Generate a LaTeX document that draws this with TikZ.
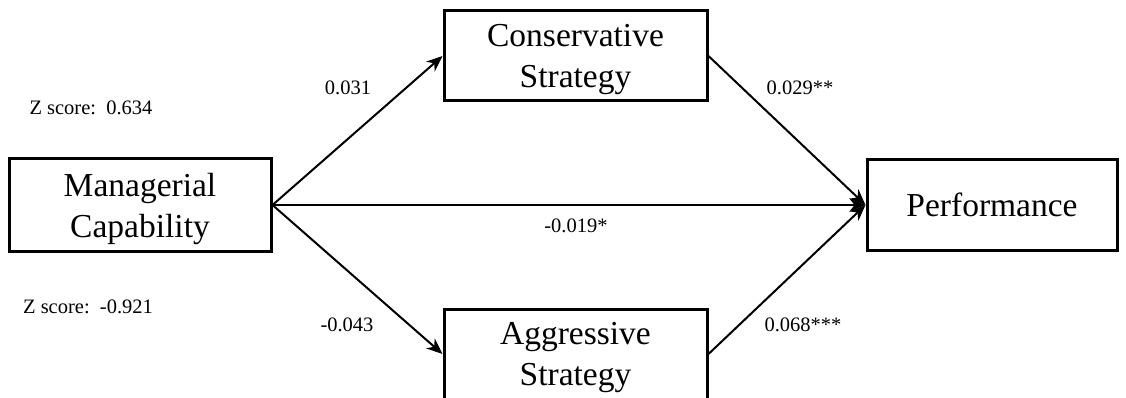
\documentclass[tikz,border=0pt]{standalone}
\usepackage{fontspec}
\setmainfont{Liberation Serif}
\usetikzlibrary{arrows.meta}
\begin{document}
\begin{tikzpicture}[x=1pt,y=-1pt,
  box/.style={draw, line width=3pt, inner sep=0pt, align=center, text depth=0pt,
    font=\fontsize{33.5}{41}\selectfont},
  lab/.style={anchor=base, inner sep=0pt, font=\fontsize{20.5}{24}\selectfont},
  conn/.style={line width=2pt, -{Stealth[length=16pt,width=13pt,inset=5pt]}}]
\useasboundingbox (0,0) rectangle (1126,398);
\clip (0,0) rectangle (1126,398);
\node[box, minimum width=262pt, minimum height=92pt] (mc) at (140,205) {Managerial\\Capability};
\node[box, minimum width=263pt, minimum height=90pt] (cs) at (575.5,56) {Conservative\\Strategy};
\node[box, minimum width=263pt, minimum height=90pt] (as) at (575.5,354) {Aggressive\\Strategy};
\node[box, minimum width=250pt, minimum height=91pt] (pf) at (992,205) {Performance};
\draw[conn] (mc.east) -- (cs.west);
\draw[conn] (mc.east) -- (as.west);
\draw[conn] (mc.east) -- (pf.west);
\draw[conn] (cs.east) -- (pf.west);
\draw[conn] (as.east) -- (pf.west);
\node[lab] (l1) at (348,95) {0.031};
\node[lab] (l2) at (800,95) {0.029**};
\node[lab] (l3) at (347,331) {-0.043};
\node[lab] (l4) at (803,331) {0.068***};
\node[lab] (l5) at (576,232) {-0.019*};
\node[lab] (z1) at (91,115) {Z score:\ \ 0.634};
\node[lab] (z2) at (88,313) {Z score:\ \ -0.921};
\end{tikzpicture}
\end{document}
